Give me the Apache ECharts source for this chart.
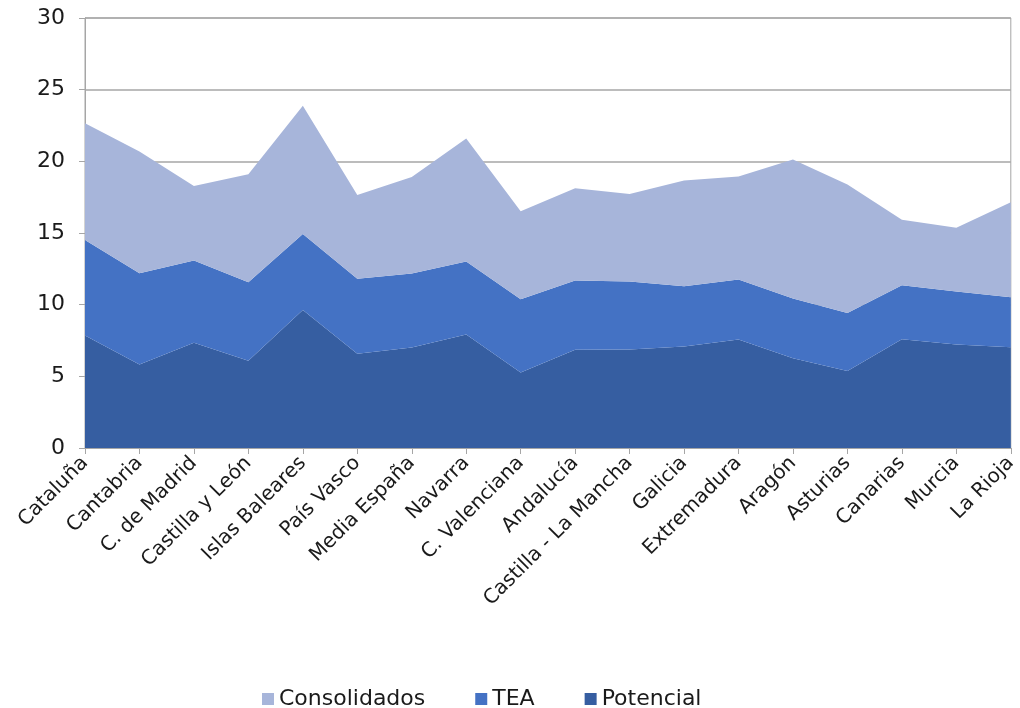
<!DOCTYPE html>
<html><head><meta charset="utf-8">
<script src="https://cdn.jsdelivr.net/npm/echarts@6/dist/echarts.min.js"></script>
<style>html,body{margin:0;padding:0;background:#fff}#c{width:1020px;height:708px}</style>
</head><body><div id="c"></div>
<script>
const categories = ["Cataluña","Cantabria","C. de Madrid","Castilla y León","Islas Baleares","País Vasco","Media España","Navarra","C. Valenciana","Andalucía","Castilla - La Mancha","Galicia","Extremadura","Aragón","Asturias","Canarias","Murcia","La Rioja"];
const potencial = [7.85,5.82,7.34,6.08,9.62,6.57,7.01,7.92,5.26,6.85,6.88,7.08,7.57,6.26,5.38,7.59,7.22,7.03];
const tea = [6.66,6.38,5.75,5.49,5.31,5.24,5.17,5.10,5.12,4.84,4.74,4.21,4.19,4.17,4.03,3.77,3.70,3.49];
const consolidados = [8.15,8.48,5.19,7.53,8.94,5.84,6.73,8.57,6.13,6.43,6.10,7.37,7.18,9.70,8.97,4.57,4.45,6.62];
const yTicks = {min:0,max:30,interval:5};

const FONT = "DejaVu Sans";
const chart = echarts.init(document.getElementById('c'), null, {renderer:'canvas'});
function s(name, data, color){
  return {name, type:'line', stack:'total', data, symbol:'none', smooth:false,
    lineStyle:{width:0}, areaStyle:{color, opacity:1}, itemStyle:{color}};
}
chart.setOption({
  animation:false,
  textStyle:{fontFamily:FONT},
  grid:{left:85,right:7,top:18,bottom:260,show:true,borderColor:'#A6A6A6',borderWidth:1},
  legend:{top:683,left:257,icon:'rect',itemWidth:12,itemHeight:12,itemGap:50,
    data:['Consolidados','TEA','Potencial'],
    textStyle:{fontFamily:FONT,fontSize:22,color:'#1a1a1a'}},
  xAxis:{type:'category',data:categories,boundaryGap:false,
    axisLine:{show:true,lineStyle:{color:'#A6A6A6'}},
    axisTick:{show:true,length:6,interval:0,lineStyle:{color:'#A6A6A6'}},
    axisLabel:{rotate:45,interval:0,margin:12,fontFamily:FONT,fontSize:20,color:'#1a1a1a'}},
  yAxis:{type:'value',min:yTicks.min,max:yTicks.max,interval:yTicks.interval,
    axisLine:{show:true,lineStyle:{color:'#A6A6A6'}},
    axisTick:{show:true,length:6,lineStyle:{color:'#A6A6A6'}},
    splitLine:{show:true,lineStyle:{color:'#A6A6A6',width:1.5}},
    axisLabel:{margin:20,fontFamily:FONT,fontSize:22,color:'#1a1a1a'}},
  series:[
    s('Potencial', potencial, '#365EA1'),
    s('TEA', tea, '#4472C4'),
    s('Consolidados', consolidados, '#A7B5DA')
  ]
});
</script></body></html>
